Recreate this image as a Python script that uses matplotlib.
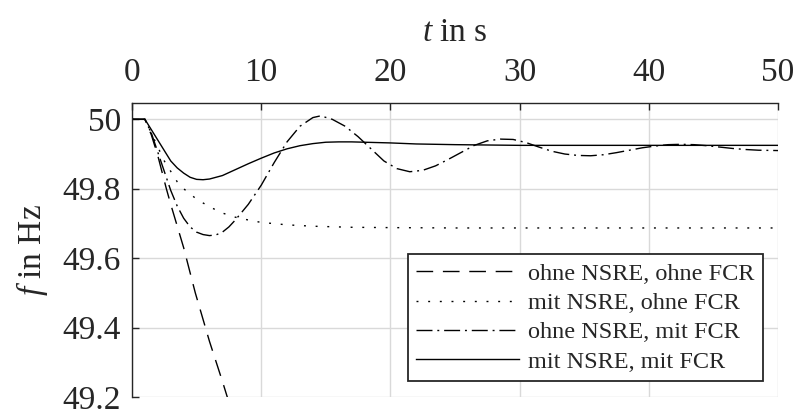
import numpy as np
import matplotlib
matplotlib.use("Agg")
import matplotlib.pyplot as plt

plt.rcParams['font.family'] = ['Liberation Serif', 'DejaVu Serif']
plt.rcParams['mathtext.fontset'] = 'custom'
plt.rcParams['mathtext.rm'] = 'Liberation Serif'
plt.rcParams['mathtext.it'] = 'Liberation Serif:italic'

# ohne NSRE, ohne FCR
t_a = [0, 1, 1.5, 2, 2.66, 3, 4, 4.9, 6, 7, 7.5, 8]
f_a = [50, 50, 49.955, 49.895, 49.80, 49.755, 49.63, 49.50, 49.36, 49.245, 49.185, 49.12]

# mit NSRE, ohne FCR
t_b = [0, 1, 1.5, 2, 2.5, 3, 3.5, 4, 5, 6, 7, 8, 9, 10, 12, 14, 17, 20, 25, 30, 40, 50]
f_b = [50, 50, 49.96, 49.92, 49.88, 49.85, 49.82, 49.80, 49.77, 49.748, 49.73, 49.718,
       49.71, 49.703, 49.696, 49.692, 49.689, 49.688, 49.687, 49.687, 49.687, 49.687]

# ohne NSRE, mit FCR
t_c = [0, 1, 1.5, 2, 2.5, 3, 3.5, 4, 4.5, 5, 5.5, 6, 6.5, 7, 7.5, 8, 9, 10, 11, 12, 13, 14,
       14.6, 15.5, 16.5, 17.5, 18.5, 19.5, 20.5, 21.5, 22.5, 23.5, 24.5, 25.5, 26.5, 27.5,
       28.5, 29.5, 30.5, 31.5, 32.5, 33.5, 34.5, 35.5, 36.5, 37.5, 38.5, 39.5, 40.5, 41.5,
       42.5, 43.5, 44.5, 45.5, 46.5, 47.5, 48.5, 50]
f_c = [50, 50, 49.96, 49.905, 49.85, 49.795, 49.75, 49.715, 49.69, 49.675, 49.668, 49.665,
       49.667, 49.675, 49.69, 49.71, 49.755, 49.81, 49.875, 49.935, 49.98, 50.005,
       50.01, 50.0, 49.98, 49.95, 49.915, 49.88, 49.858, 49.849, 49.853, 49.866, 49.885,
       49.905, 49.925, 49.938, 49.943, 49.942, 49.933, 49.92, 49.908, 49.9, 49.896, 49.895,
       49.898, 49.904, 49.911, 49.918, 49.923, 49.927, 49.928, 49.927, 49.924, 49.92,
       49.916, 49.913, 49.911, 49.91]

# mit NSRE, mit FCR
t_d = [0, 1, 1.5, 2, 2.5, 3, 3.5, 4, 4.5, 5, 5.5, 6, 7, 8, 9, 10, 11, 12, 13, 14, 15, 16,
       17, 18, 20, 22, 25, 30, 35, 40, 45, 50]
f_d = [50, 50, 49.97, 49.94, 49.91, 49.88, 49.86, 49.845, 49.833, 49.827, 49.826, 49.828,
       49.838, 49.855, 49.872, 49.888, 49.903, 49.915, 49.924, 49.930, 49.934, 49.935,
       49.935, 49.934, 49.932, 49.929, 49.927, 49.925, 49.925, 49.925, 49.925, 49.925]

labels = ['ohne NSRE, ohne FCR', 'mit NSRE, ohne FCR',
          'ohne NSRE, mit FCR', 'mit NSRE, mit FCR']

x_ticks = [0, 10, 20, 30, 40, 50]
y_ticks = [49.2, 49.4, 49.6, 49.8, 50]
y_tick_labels = ['49.2', '49.4', '49.6', '49.8', '50']

fig = plt.figure(figsize=(7.99, 4.13), dpi=100)
ax = fig.add_axes([0.1652, 0.0387, 0.8085, 0.7119])

lw = 1.0
ax.plot(t_a, f_a, color='k', lw=lw, dashes=(12, 7), label=labels[0])
ax.plot(t_b, f_b, color='k', lw=lw, dashes=(1.4, 7), label=labels[1])
ax.plot(t_c, f_c, color='k', lw=lw, dashes=(11.5, 3.5, 1.4, 3.5), label=labels[2])
ax.plot(t_d, f_d, color='k', lw=lw, label=labels[3])

ax.set_xlim(0, 50)
ax.set_ylim(49.2, 50.047)
ax.set_xticks(x_ticks)
ax.set_yticks(y_ticks)
ax.set_yticklabels(y_tick_labels)
ax.grid(True, color='#d9d9d9', lw=1.0)
ax.set_axisbelow(True)

ax.xaxis.tick_top()
ax.xaxis.set_label_position('top')
ax.spines['right'].set_visible(False)
ax.spines['bottom'].set_visible(False)
for s in ('top', 'left'):
    ax.spines[s].set_color('#262626')
    ax.spines[s].set_linewidth(1.0)
ax.tick_params(direction='in', length=5, width=1.0, color='#262626',
               labelsize=24, labelcolor='#262626')
ax.tick_params(axis='y', pad=8)
ax.tick_params(axis='x', pad=11)

ax.set_xlabel('$t$ in s', fontsize=24, labelpad=12, color='#262626')
ax.set_ylabel('$f$ in Hz', fontsize=24, labelpad=9, color='#262626')

leg = ax.legend(loc='lower right', bbox_to_anchor=(0.977, 0.054), fontsize=17.5,
                handlelength=4.2, handletextpad=0.4, labelspacing=0.3,
                borderpad=0.35, borderaxespad=0, fancybox=False, framealpha=1,
                edgecolor='#262626')
leg.get_frame().set_linewidth(1.3)
for txt in leg.get_texts():
    txt.set_color('#262626')

fig.savefig('out.png', dpi=100)
